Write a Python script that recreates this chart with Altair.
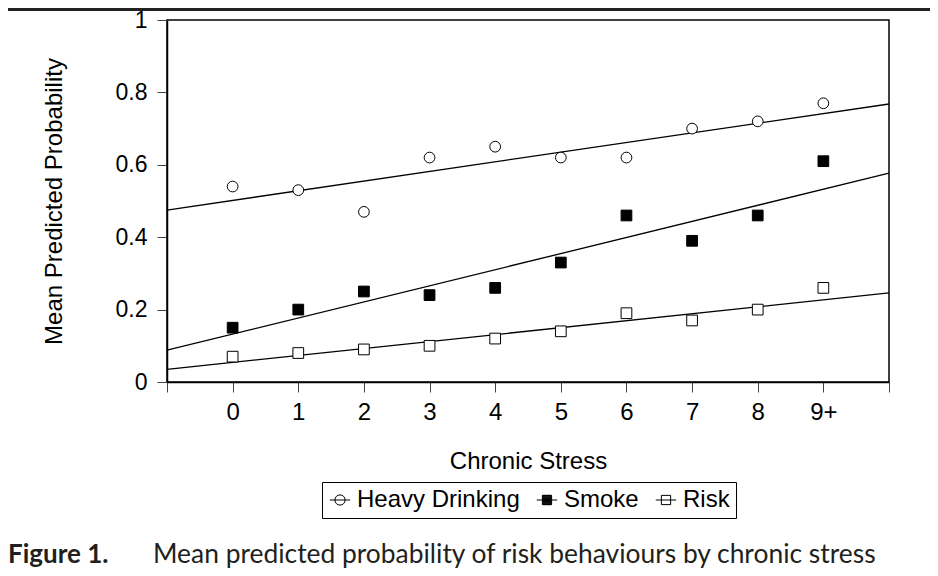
import altair as alt
import pandas as pd

# ---- data ----
series = ["Heavy Drinking", "Smoke", "Risk"]
stress_labels = ["0", "1", "2", "3", "4", "5", "6", "7", "8", "9+"]
heavy_drinking = [0.54, 0.53, 0.47, 0.62, 0.65, 0.62, 0.62, 0.70, 0.72, 0.77]
smoke = [0.15, 0.20, 0.25, 0.24, 0.26, 0.33, 0.46, 0.39, 0.46, 0.61]
risk = [0.07, 0.08, 0.09, 0.10, 0.12, 0.14, 0.19, 0.17, 0.20, 0.26]

# fitted trend lines (value at the left and right edge of the plot)
trend_x = [-1, 10]
trend_heavy = [0.475, 0.768]
trend_smoke = [0.088, 0.577]
trend_risk = [0.035, 0.246]

y_ticks = [0, 0.2, 0.4, 0.6, 0.8, 1.0]
x_ticks = list(range(-1, 11))

x_title = "Chronic Stress"
y_title = "Mean Predicted Probability"
caption_label = "Figure 1."
caption_text = "Mean predicted probability of risk behaviours by chronic stress"

# ---- tables ----
pts = []
for name, vals in zip(series, [heavy_drinking, smoke, risk]):
    for i, v in enumerate(vals):
        pts.append({"series": name, "x": i, "y": v, "label": stress_labels[i]})
df_pts = pd.DataFrame(pts)

lines = []
for name, vals in zip(series, [trend_heavy, trend_smoke, trend_risk]):
    for xv, yv in zip(trend_x, vals):
        lines.append({"series": name, "x": xv, "y": yv})
df_lines = pd.DataFrame(lines)

FONT = "Liberation Sans"
FS = 24
W, H = 722, 362

label_expr = ("datum.value < 0 || datum.value > 9 ? '' : "
              + "[" + ",".join("'%s'" % s for s in stress_labels) + "][datum.value]")

x_enc = alt.X(
    "x:Q",
    scale=alt.Scale(domain=[-1, 10], nice=False, zero=False),
    axis=alt.Axis(
        values=x_ticks, labelExpr=label_expr, title=x_title,
        titleX=W / 2, titleY=86, titleBaseline="alphabetic", titleAnchor="middle",
        labelPadding=8,
    ),
)
y_enc = alt.Y(
    "y:Q",
    scale=alt.Scale(domain=[0, 1], nice=False),
    axis=alt.Axis(
        values=y_ticks, format=".1~f", title=y_title,
        titleX=-106, titleY=H / 2, titleBaseline="alphabetic", titleAngle=-90,
        labelPadding=10, labelFontSize=23,
    ),
)

line_layer = alt.Chart(df_lines).mark_line(color="black", strokeWidth=1.3).encode(
    x=x_enc, y=y_enc, detail="series:N"
)

point_layer = alt.Chart(df_pts).mark_point(
    filled=True, stroke="black", strokeWidth=1, size=115, opacity=1
).encode(
    x=x_enc,
    y=y_enc,
    shape=alt.Shape("series:N", scale=alt.Scale(domain=series, range=["circle", "square", "square"]),
                    legend=None),
    fill=alt.Fill("series:N", scale=alt.Scale(domain=series, range=["white", "black", "white"]),
                  legend=None),
)

# legend symbols: marker with a line through it (unit-square SVG paths)
circle_path = "M-1,0H1M0.5,0A0.5,0.5,0,1,1,-0.5,0A0.5,0.5,0,1,1,0.5,0Z"
square_path = "M-1,0H1M-0.45,-0.45H0.45V0.45H-0.45Z"
solid_square_path = "M-1,0H1M-0.45,-0.45H0.45V0.45H-0.45Z" + "".join(
    "M-0.45,%.2fH0.45" % (-0.45 + 0.1 * k) for k in range(10)
)

legend_layer = alt.Chart(df_pts).transform_filter("false").mark_point(
    filled=False, color="black", strokeWidth=1, opacity=1
).encode(
    x=x_enc,
    y=y_enc,
    shape=alt.Shape(
        "series:N",
        scale=alt.Scale(domain=series, range=[circle_path, solid_square_path, square_path]),
        legend=alt.Legend(
            title=None, orient="none", legendX=155, legendY=462,
            direction="horizontal", columns=3,
            strokeColor="black", padding=6,
            symbolSize=420, symbolStrokeColor="black", symbolStrokeWidth=1,
            symbolFillColor="white", symbolOpacity=1,
            labelFont=FONT, labelFontSize=FS, labelColor="black", labelLimit=400,
            labelOffset=5, columnPadding=14,
        ),
    ),
)

top_rule = alt.Chart(df_pts).mark_rule(color="#222222", strokeWidth=3).encode(
    x=alt.value(-159), x2=alt.value(W + 41), y=alt.value(-11)
)

cap_bold = alt.Chart(pd.DataFrame({"t": [caption_label]})).mark_text(
    font="Lato", fontSize=26, fontWeight="bold", align="left", baseline="alphabetic", color="#231f20"
).encode(text="t:N", x=alt.value(-159), y=alt.value(543))

cap_text = alt.Chart(pd.DataFrame({"t": [caption_text]})).mark_text(
    font="Lato", fontSize=26.4, align="left", baseline="alphabetic", color="#231f20"
).encode(text="t:N", x=alt.value(-14), y=alt.value(543))

chart = alt.layer(line_layer, point_layer, legend_layer, top_rule, cap_bold, cap_text).resolve_scale(
    shape="independent", fill="independent"
).properties(
    width=W, height=H,
    autosize=alt.AutoSizeParams(type="none"),
    padding={"left": 159, "top": 12, "right": 41, "bottom": 186},
    background="white",
).configure_view(
    stroke="black", strokeWidth=1.5
).configure_axis(
    grid=False, domainColor="black", domainWidth=1.5, tickColor="#444444", tickWidth=1,
    tickSize=10, labelFont=FONT, labelFontSize=FS, labelColor="black",
    titleFont=FONT, titleFontSize=FS, titleColor="black", titleFontWeight="normal",
)

chart.save("out.html", embed_options={"renderer": "svg", "actions": False})
